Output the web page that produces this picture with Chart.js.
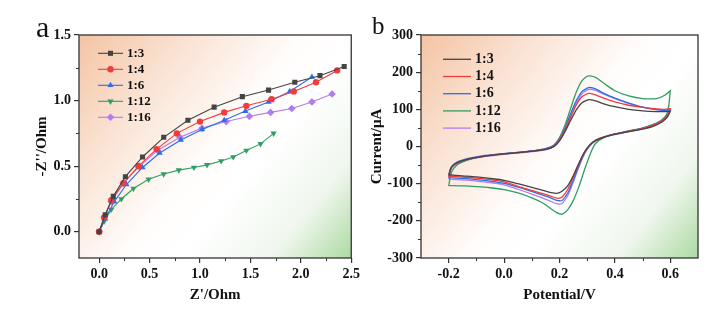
<!DOCTYPE html>
<html>
<head>
<meta charset="utf-8">
<script src="https://cdn.jsdelivr.net/npm/chart.js@4/dist/chart.umd.min.js"></script>
<style>
    body { margin: 0; background: #fff; width: 726px; height: 326px; position: relative; overflow: hidden; }
    .panel { position: absolute; top: 0; width: 363px; height: 326px; }
    #panelA { left: 0; }
    #panelB { left: 363px; }
    .tag { position: absolute; font-family: "Liberation Serif", serif; color: #111; line-height: 30px; }
</style>
</head>
<body>
<div class="panel" id="panelA"><canvas id="eisChart" width="363" height="326"></canvas></div>
<div class="panel" id="panelB"><canvas id="cvChart" width="363" height="326"></canvas></div>
<div class="tag" style="left:36px;top:12px;font-size:30px">a</div>
<div class="tag" style="left:372px;top:11px;font-size:25px">b</div>
<script>
const RATIOS = ['1:3', '1:4', '1:6', '1:12', '1:16'];
const COLORS = ['#444444', '#f23c3c', '#2b6ee8', '#2f9e60', '#b27cf0'];

// Nyquist plot: Z' (Ohm) and -Z'' (Ohm)
const zre13 = [0, 0.06, 0.14, 0.26, 0.43, 0.64, 0.88, 1.14, 1.42, 1.68, 1.94, 2.19, 2.43];
const zim13 = [0, 0.13, 0.27, 0.42, 0.57, 0.72, 0.85, 0.95, 1.03, 1.08, 1.14, 1.19, 1.26];
const zre14 = [0, 0.05, 0.12, 0.24, 0.39, 0.57, 0.77, 1.0, 1.24, 1.46, 1.71, 1.93, 2.15, 2.36];
const zim14 = [0, 0.11, 0.24, 0.37, 0.50, 0.63, 0.75, 0.84, 0.91, 0.96, 1.01, 1.07, 1.14, 1.23];
const zre16 = [0, 0.06, 0.15, 0.27, 0.43, 0.60, 0.81, 1.02, 1.24, 1.45, 1.68, 1.89, 2.11];
const zim16 = [0, 0.10, 0.23, 0.36, 0.49, 0.60, 0.70, 0.78, 0.85, 0.92, 0.99, 1.07, 1.18];
const zre112 = [0, 0.05, 0.12, 0.22, 0.34, 0.49, 0.64, 0.79, 0.94, 1.07, 1.21, 1.33, 1.46, 1.60, 1.73];
const zim112 = [0, 0.08, 0.17, 0.25, 0.33, 0.40, 0.44, 0.47, 0.49, 0.51, 0.54, 0.57, 0.62, 0.67, 0.75];
const zre116 = [0, 0.05, 0.12, 0.24, 0.40, 0.58, 0.80, 1.02, 1.26, 1.49, 1.70, 1.91, 2.11, 2.31];
const zim116 = [0, 0.11, 0.23, 0.37, 0.50, 0.62, 0.72, 0.79, 0.84, 0.88, 0.91, 0.94, 0.99, 1.05];

const zreTicks = [0, 0.5, 1.0, 1.5, 2.0, 2.5];
const zreMinor = [0.25, 0.75, 1.25, 1.75, 2.25];
const zimTicks = [0, 0.5, 1.0, 1.5];
const zimMinor = [0.25, 0.75, 1.25];

// Cyclic voltammetry: potential (V) on the up and down sweeps, current (µA)
const cvUp = [-0.2, -0.19, -0.17, -0.13, -0.08, 0, 0.06, 0.11, 0.15, 0.18, 0.2, 0.22, 0.24, 0.26, 0.28, 0.3, 0.31, 0.33, 0.36, 0.4, 0.45, 0.5, 0.55, 0.58, 0.6];
const cvDown = [0.6, 0.59, 0.57, 0.54, 0.5, 0.45, 0.4, 0.36, 0.33, 0.31, 0.29, 0.27, 0.25, 0.23, 0.21, 0.2, 0.19, 0.17, 0.14, 0.1, 0.05, 0, -0.05, -0.1, -0.15, -0.2];

const iUp13 = [-76, -55, -44, -34, -27, -20, -16, -12, -8, 0, 15, 40, 70, 98, 117, 125, 126, 123, 115, 107, 100, 96, 94, 94, 95];
const iUp14 = [-80, -56, -44, -34, -27, -20, -16, -12, -8, 1, 18, 45, 79, 111, 133, 142, 143, 139, 130, 120, 111, 105, 101, 100, 102];
const iUp16 = [-84, -55, -42, -32, -25, -19, -15, -11, -6, 3, 21, 50, 88, 122, 147, 157, 159, 155, 143, 130, 117, 106, 99, 97, 98];
const iUp112 = [-106, -70, -50, -36, -27, -19, -15, -11, -6, 4, 24, 58, 102, 145, 176, 189, 190, 186, 170, 150, 136, 129, 129, 138, 150];
const iUp116 = [-88, -60, -46, -35, -28, -21, -17, -13, -9, 0, 16, 43, 80, 115, 141, 152, 154, 151, 141, 129, 116, 106, 99, 97, 97];

const iDown13 = [95, 80, 66, 55, 47, 40, 33, 25, 16, 5, -15, -45, -78, -105, -120, -124, -126, -124, -118, -110, -100, -91, -86, -82, -79, -76];
const iDown14 = [102, 85, 70, 58, 49, 41, 34, 26, 17, 4, -16, -47, -82, -115, -136, -139, -139, -134, -127, -118, -107, -95, -89, -85, -82, -80];
const iDown16 = [98, 84, 70, 58, 49, 41, 33, 25, 16, 3, -18, -52, -90, -125, -145, -146, -145, -139, -131, -121, -109, -99, -93, -89, -86, -84];
const iDown112 = [150, 92, 72, 60, 50, 42, 34, 24, 8, -22, -63, -108, -145, -170, -182, -181, -178, -168, -152, -138, -125, -116, -111, -108, -106, -105];
const iDown116 = [97, 83, 69, 57, 48, 40, 32, 24, 15, 2, -20, -55, -95, -132, -153, -155, -154, -148, -139, -128, -115, -103, -97, -93, -90, -88];

const potTicks = [-0.2, 0, 0.2, 0.4, 0.6];
const potMinor = [-0.1, 0.1, 0.3, 0.5];
const curTicks = [-300, -200, -100, 0, 100, 200, 300];
const curMinor = [-250, -150, -50, 50, 150, 250];

const SERIF = '"Liberation Serif", "Times New Roman", serif';
const INK = '#111111';
const FRAME = '#333333';

Chart.defaults.font.family = SERIF;
Chart.defaults.color = INK;

const pairs = (xs, ys) => xs.map((x, i) => ({ x, y: ys[i] }));

// peach in the top left corner fading through white into green at the bottom right
const plotBackground = {
    id: 'plotBackground',
    beforeDraw(chart) {
        const { ctx, chartArea: a } = chart;
        const g = ctx.createLinearGradient(a.left, a.top, a.right, a.bottom);
        g.addColorStop(0, '#f4c4a3');
        g.addColorStop(0.25, '#fae3d4');
        g.addColorStop(0.5, '#fffdfc');
        g.addColorStop(0.62, '#ffffff');
        g.addColorStop(0.82, '#f0f7ee');
        g.addColorStop(1, '#addaa3');
        ctx.save();
        ctx.fillStyle = g;
        ctx.fillRect(a.left, a.top, a.right - a.left, a.bottom - a.top);
        ctx.restore();
    },
};

function framePlugin(xMinor, yMinor) {
    return {
        id: 'frame',
        afterDatasetsDraw(chart) {
            const { ctx, chartArea: a, scales } = chart;
            ctx.save();
            ctx.strokeStyle = FRAME;
            ctx.lineWidth = 1.3;
            ctx.strokeRect(a.left, a.top, a.right - a.left, a.bottom - a.top);
            ctx.lineWidth = 1;
            ctx.beginPath();
            xMinor.forEach((v) => {
                const x = Math.round(scales.x.getPixelForValue(v)) + 0.5;
                ctx.moveTo(x, a.bottom);
                ctx.lineTo(x, a.bottom + 3);
            });
            yMinor.forEach((v) => {
                const y = Math.round(scales.y.getPixelForValue(v)) + 0.5;
                ctx.moveTo(a.left, y);
                ctx.lineTo(a.left - 3, y);
            });
            ctx.stroke();
            ctx.restore();
        },
    };
}

function keyPlugin(dx, dy, step, len, size) {
    return {
        id: 'seriesKey',
        afterDraw(chart) {
            const { ctx, chartArea: a } = chart;
            ctx.save();
            chart.data.datasets.forEach((ds, i) => {
                const x0 = a.left + dx;
                const y = a.top + dy + i * step;
                ctx.strokeStyle = ds.borderColor;
                ctx.lineWidth = ds.borderWidth;
                ctx.beginPath();
                ctx.moveTo(x0, y);
                ctx.lineTo(x0 + len, y);
                ctx.stroke();
                if (ds.pointRadius > 0) {
                    ctx.fillStyle = ds.backgroundColor;
                    Chart.helpers.drawPoint(ctx, {
                        pointStyle: ds.pointStyle,
                        radius: ds.pointRadius,
                        rotation: ds.pointRotation || 0,
                        borderWidth: 0,
                    }, x0 + len / 2, y);
                }
                ctx.fillStyle = INK;
                ctx.font = `bold ${size}px ${SERIF}`;
                ctx.textBaseline = 'middle';
                ctx.fillText(ds.label, x0 + len + 4, y);
            });
            ctx.restore();
        },
    };
}

function axis({ min, max, ticks, fmt, title, fitWidth, fitHeight, titlePad }) {
    return {
        type: 'linear',
        min,
        max,
        afterBuildTicks: (s) => { s.ticks = ticks.map((value) => ({ value })); },
        afterFit: (s) => {
            if (fitWidth) s.width = fitWidth;
            if (fitHeight) s.height = fitHeight;
        },
        ticks: {
            autoSkip: false,
            maxRotation: 0,
            padding: 3,
            color: INK,
            font: { size: 14, weight: 'bold' },
            callback: (v) => fmt(Number(v)),
        },
        grid: { drawOnChartArea: false, tickLength: 5, color: FRAME, lineWidth: 1.2 },
        border: { display: false },
        title: { display: true, text: title, color: INK, font: { size: 15, weight: 'bold' }, padding: titlePad },
    };
}

// panel a: impedance spectra
const markers = [
    { pointStyle: 'rect', pointRadius: 3.6, pointRotation: 0 },
    { pointStyle: 'circle', pointRadius: 3.2, pointRotation: 0 },
    { pointStyle: 'triangle', pointRadius: 3.6, pointRotation: 0 },
    { pointStyle: 'triangle', pointRadius: 3.6, pointRotation: 180 },
    { pointStyle: 'rectRot', pointRadius: 3.8, pointRotation: 0 },
];
const eisSets = [pairs(zre13, zim13), pairs(zre14, zim14), pairs(zre16, zim16), pairs(zre112, zim112), pairs(zre116, zim116)];

new Chart(document.getElementById('eisChart'), {
    type: 'scatter',
    data: {
        datasets: eisSets.map((data, i) => ({
            label: RATIOS[i],
            data,
            showLine: true,
            tension: 0,
            borderColor: COLORS[i],
            backgroundColor: COLORS[i],
            borderWidth: 1.1,
            pointBorderWidth: 0,
            ...markers[i],
        })),
    },
    options: {
        responsive: false,
        animation: false,
        layout: { padding: { top: 35, right: 9, left: 0, bottom: 0 } },
        plugins: { legend: { display: false }, tooltip: { enabled: false } },
        scales: {
            x: axis({ min: -0.2, max: 2.5, ticks: zreTicks, fmt: (v) => v.toFixed(1), title: "Z'/Ohm", fitHeight: 68, titlePad: { top: 0, bottom: 22 } }),
            y: axis({ min: -0.2, max: 1.5, ticks: zimTicks, fmt: (v) => v.toFixed(1), title: "-Z''/Ohm", fitWidth: 79, titlePad: { top: 33, bottom: 0 } }),
        },
    },
    plugins: [plotBackground, framePlugin(zreMinor, zimMinor), keyPlugin(19, 18.3, 16, 25, 13)],
});

// panel b: CV loops, up sweep followed by down sweep
const upSweeps = [iUp13, iUp14, iUp16, iUp112, iUp116];
const downSweeps = [iDown13, iDown14, iDown16, iDown112, iDown116];

new Chart(document.getElementById('cvChart'), {
    type: 'scatter',
    data: {
        datasets: RATIOS.map((label, i) => ({
            label,
            data: pairs(cvUp, upSweeps[i]).concat(pairs(cvDown, downSweeps[i])),
            showLine: true,
            tension: 0.3,
            borderColor: COLORS[i],
            backgroundColor: COLORS[i],
            borderWidth: 1.3,
            pointRadius: 0,
        })),
    },
    options: {
        responsive: false,
        animation: false,
        layout: { padding: { top: 35, right: 28, left: 0, bottom: 0 } },
        plugins: { legend: { display: false }, tooltip: { enabled: false } },
        scales: {
            x: axis({ min: -0.3, max: 0.7, ticks: potTicks, fmt: (v) => v.toFixed(1), title: 'Potential/V', fitHeight: 68, titlePad: { top: 0, bottom: 22 } }),
            y: axis({ min: -300, max: 300, ticks: curTicks, fmt: (v) => String(Math.round(v)), title: 'Current/μA', fitWidth: 58, titlePad: { top: 5, bottom: 0 } }),
        },
    },
    plugins: [plotBackground, framePlugin(potMinor, curMinor), keyPlugin(22, 24.3, 17.2, 28, 14)],
});
</script>
</body>
</html>
